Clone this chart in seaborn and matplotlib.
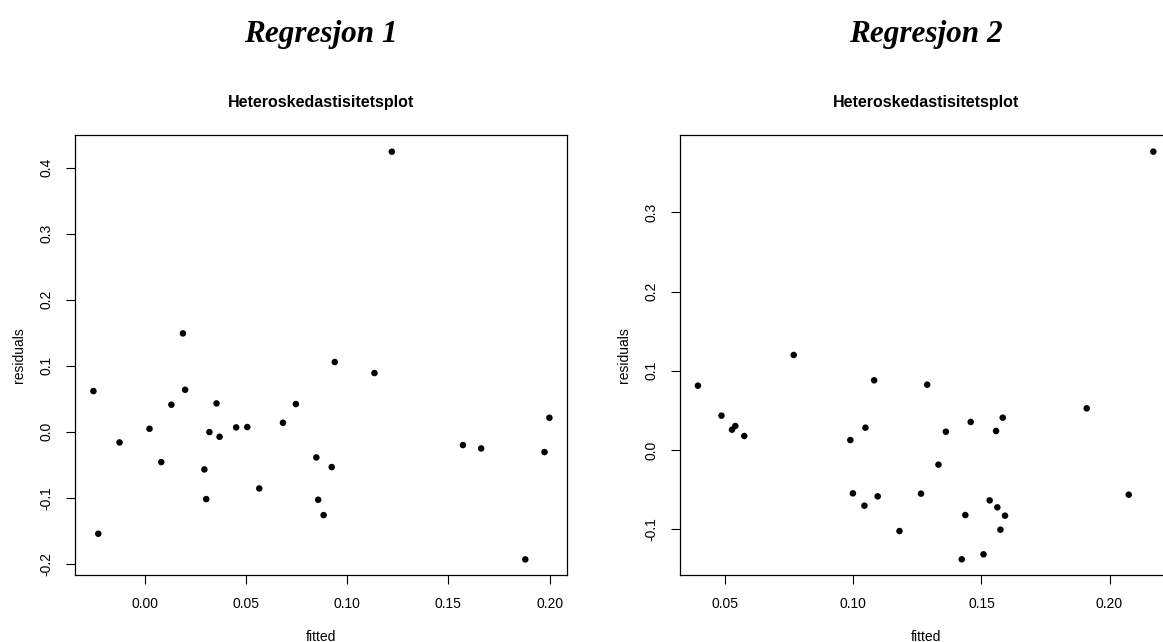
import numpy as np
import pandas as pd
import matplotlib
matplotlib.use("Agg")
import matplotlib.pyplot as plt
import seaborn as sns

# ---- data ----
fitted_1 = [-0.0253, 0.1221, 0.0189, 0.0939, 0.1135, 0.0200, 0.0132, 0.0355, 0.0747,
            0.1999, 0.0024, -0.0124, 0.0082, 0.0295, 0.0320, 0.0370, 0.0452, 0.0507,
            0.0683, 0.0304, 0.0566, 0.0848, 0.0924, 0.0857, 0.0884, -0.0229, 0.1572,
            0.1662, 0.1975, 0.1880]
resid_1 = [0.0616, 0.4242, 0.1490, 0.1056, 0.0889, 0.0636, 0.0409, 0.0429, 0.0419,
           0.0212, 0.0045, -0.0162, -0.0460, -0.0571, -0.0005, -0.0076, 0.0066, 0.0071,
           0.0136, -0.1020, -0.0859, -0.0389, -0.0535, -0.1030, -0.1263, -0.1545, -0.0202,
           -0.0253, -0.0308, -0.1934]

fitted_2 = [0.0393, 0.0767, 0.1081, 0.1288, 0.2171, 0.0485, 0.0526, 0.0539, 0.0574,
            0.0988, 0.1047, 0.1361, 0.1458, 0.1557, 0.1583, 0.1911, 0.1332, 0.0998,
            0.1043, 0.1095, 0.1264, 0.1180, 0.1437, 0.1423, 0.1508, 0.1532, 0.1562,
            0.1592, 0.1574, 0.2075]
resid_2 = [0.0812, 0.1200, 0.0880, 0.0825, 0.3767, 0.0434, 0.0257, 0.0303, 0.0177,
           0.0126, 0.0282, 0.0231, 0.0354, 0.0240, 0.0408, 0.0526, -0.0185, -0.0547,
           -0.0703, -0.0585, -0.0551, -0.1023, -0.0821, -0.1380, -0.1317, -0.0636, -0.0724,
           -0.0829, -0.1006, -0.0564]

panel_titles = ["Regresjon 1", "Regresjon 2"]
plot_title = "Heteroskedastisitetsplot"
x_label = "fitted"
y_label = "residuals"

x_ticks_1 = [0.00, 0.05, 0.10, 0.15, 0.20]
y_ticks_1 = [-0.2, -0.1, 0.0, 0.1, 0.2, 0.3, 0.4]
x_ticks_2 = [0.05, 0.10, 0.15, 0.20]
y_ticks_2 = [-0.1, 0.0, 0.1, 0.2, 0.3]

# ---- figure ----
sns.set_style("white")
plt.rcParams['font.family'] = ['Liberation Sans', 'DejaVu Sans']
plt.rcParams['axes.unicode_minus'] = False
plt.rcParams['text.color'] = 'black'
plt.rcParams['axes.labelcolor'] = 'black'
plt.rcParams['xtick.color'] = 'black'
plt.rcParams['ytick.color'] = 'black'

W, H = 1163, 642
fig = plt.figure(figsize=(W / 100, H / 100), dpi=100)
fig.patch.set_facecolor("white")


def px_axes(x0, y0, x1, y1):
    return fig.add_axes([x0 / W, 1 - y1 / H, (x1 - x0) / W, (y1 - y0) / H])


panels = [
    dict(box=(75, 135, 567, 575), x=fitted_1, y=resid_1, xlim=(-0.0344, 0.2086),
         ylim=(-0.217, 0.4495), xt=x_ticks_1, yt=y_ticks_1, xfmt="{:.2f}", yfmt="{:.1f}"),
    dict(box=(680, 135, 1171, 575), x=fitted_2, y=resid_2, xlim=(0.0323, 0.2240),
         ylim=(-0.1578, 0.3977), xt=x_ticks_2, yt=y_ticks_2, xfmt="{:.2f}", yfmt="{:.1f}"),
]

for i, p in enumerate(panels):
    ax = px_axes(*p["box"])
    df = pd.DataFrame({"fitted": p["x"], "residuals": p["y"]})
    sns.scatterplot(data=df, x="fitted", y="residuals", ax=ax, color="black",
                    s=22, linewidth=0, edgecolor="none")
    ax.set_xlim(*p["xlim"])
    ax.set_ylim(*p["ylim"])
    ax.set_xticks(p["xt"])
    ax.set_xticklabels([p["xfmt"].format(v) for v in p["xt"]])
    ax.set_yticks(p["yt"])
    ax.set_yticklabels([p["yfmt"].format(v) for v in p["yt"]], rotation=90, va="center")
    ax.tick_params(axis="both", direction="out", length=6.5, width=0.8, colors="black",
                   labelcolor="black", labelsize=10, pad=9, bottom=True, left=True)
    for sp in ax.spines.values():
        sp.set_visible(True)
        sp.set_color("black")
        sp.set_linewidth(0.9)
    ax.set_xlabel(x_label, fontsize=10, labelpad=14, color="black")
    ax.set_ylabel(y_label, fontsize=10, labelpad=10, color="black")
    ax.set_title(plot_title, fontsize=11.5, fontweight="bold", pad=20, color="black")
    cx = (p["box"][0] + p["box"][2]) / 2
    fig.text(cx / W, 1 - 42 / H, panel_titles[i], ha="center", va="baseline",
             fontsize=22.5, fontweight="bold", fontstyle="italic", color="black",
             family=["Liberation Serif", "DejaVu Serif"])

fig.savefig("out.png", dpi=100, facecolor="white")
